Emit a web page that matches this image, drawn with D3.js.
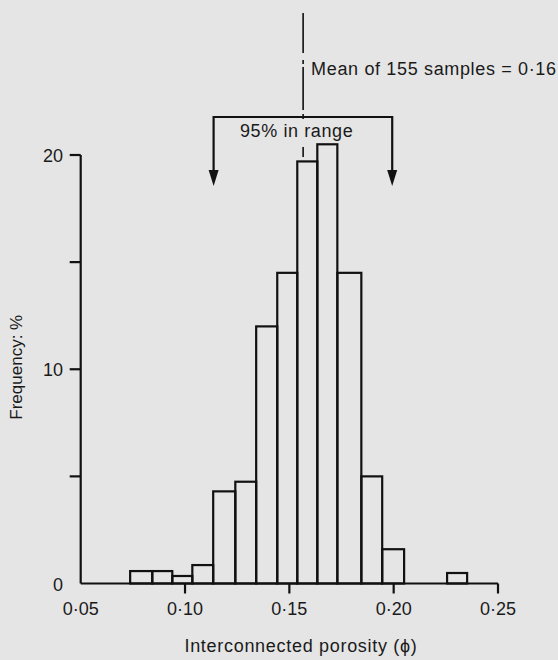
<!DOCTYPE html>
<html>
<head>
<meta charset="utf-8">
<script src="https://cdn.jsdelivr.net/npm/d3@7"></script>
<style>
  body { margin: 0; background: #e5e5e5; }
  text { font-family: "Liberation Sans", Arial, sans-serif; fill: #1a1a1a; }
</style>
</head>
<body>
<div id="container"></div>
<script>
// bin edges (porosity) and frequency (%)
const binStarts = [0.0737, 0.0843, 0.0939, 0.1035, 0.1135, 0.1241, 0.1341, 0.1442, 0.1538, 0.1634, 0.1730, 0.1845, 0.1945, 0.2256];
const binEnds   = [0.0843, 0.0939, 0.1035, 0.1135, 0.1241, 0.1341, 0.1442, 0.1538, 0.1634, 0.1730, 0.1845, 0.1945, 0.2050, 0.2352];
const freq      = [0.58, 0.58, 0.35, 0.86, 4.3, 4.75, 12.0, 14.5, 19.7, 20.5, 14.5, 5.0, 1.6, 0.49];

const xTicks = [0.10, 0.15, 0.20, 0.25];
const xLabels = [0.05, 0.10, 0.15, 0.20, 0.25];
const yTicks = [5, 10, 15, 20];
const yLabels = [0, 10, 20];

const meanValue = 0.1566;       // where the dashed line is drawn
const rangeLow = 0.1137, rangeHigh = 0.1993;
const meanText = "Mean of 155 samples = 0·16";
const rangeText = "95% in range";

const width = 558, height = 660;
const fmt = d => d3.format(".2f")(d).replace(".", "·");

const x = d3.scaleLinear().domain([0.05, 0.25]).range([80.7, 498]);
const y = d3.scaleLinear().domain([0, 20]).range([583.5, 155]);

const svg = d3.select("#container").append("svg")
  .attr("width", width).attr("height", height);

// bars
svg.append("g")
  .selectAll("rect")
  .data(freq)
  .join("rect")
  .attr("x", (d, i) => x(binStarts[i]))
  .attr("width", (d, i) => x(binEnds[i]) - x(binStarts[i]))
  .attr("y", d => y(d))
  .attr("height", d => y(0) - y(d))
  .attr("fill", "none")
  .attr("stroke", "#111")
  .attr("stroke-width", 2.2);

// axes
const ink = "#111";
svg.append("line")
  .attr("x1", x(0.05)).attr("x2", x(0.25))
  .attr("y1", y(0)).attr("y2", y(0))
  .attr("stroke", ink).attr("stroke-width", 2.2);
svg.append("line")
  .attr("x1", x(0.05)).attr("x2", x(0.05))
  .attr("y1", y(0)).attr("y2", y(20))
  .attr("stroke", ink).attr("stroke-width", 2.2);

svg.append("g").selectAll("line")
  .data(xTicks).join("line")
  .attr("x1", d => x(d)).attr("x2", d => x(d))
  .attr("y1", y(0)).attr("y2", y(0) + 10)
  .attr("stroke", ink).attr("stroke-width", 2.2);

svg.append("g").selectAll("text")
  .data(xLabels).join("text")
  .attr("x", d => x(d)).attr("y", 615)
  .attr("text-anchor", "middle")
  .attr("font-size", 18)
  .text(fmt);

svg.append("g").selectAll("line")
  .data(yTicks).join("line")
  .attr("x1", x(0.05) - 11).attr("x2", x(0.05))
  .attr("y1", d => y(d)).attr("y2", d => y(d))
  .attr("stroke", ink).attr("stroke-width", 2.2);

svg.append("g").selectAll("text")
  .data(yLabels).join("text")
  .attr("x", 63).attr("y", d => y(d) + 7)
  .attr("text-anchor", "end")
  .attr("font-size", 18)
  .text(d => d);

svg.append("text")
  .attr("x", 301).attr("y", 652)
  .attr("text-anchor", "middle")
  .attr("font-size", 18)
  .attr("letter-spacing", 0.7)
  .text("Interconnected porosity (ϕ)");

svg.append("text")
  .attr("transform", `translate(22,${y(10) - 2}) rotate(-90)`)
  .attr("text-anchor", "middle")
  .attr("font-size", 17)
  .text("Frequency: %");

// mean line, broken like the original
svg.append("line")
  .attr("x1", x(meanValue)).attr("x2", x(meanValue))
  .attr("y1", 13).attr("y2", 157)
  .attr("stroke", ink).attr("stroke-width", 1.6)
  .attr("stroke-dasharray", "40,7,4,3,43,4,5,28,10");

svg.append("text")
  .attr("x", x(meanValue) + 8).attr("y", 75)
  .attr("font-size", 18)
  .attr("letter-spacing", 0.65)
  .text(meanText);

// 95% range bracket
const bracketY = 117, arrowTip = 186;
svg.append("path")
  .attr("d", `M${x(rangeLow)},${arrowTip - 12}V${bracketY}H${x(rangeHigh)}V${arrowTip - 12}`)
  .attr("fill", "none").attr("stroke", ink).attr("stroke-width", 2.2);

svg.append("g").selectAll("path")
  .data([rangeLow, rangeHigh]).join("path")
  .attr("d", d => `M${x(d) - 5},${arrowTip - 16}L${x(d) + 5},${arrowTip - 16}L${x(d)},${arrowTip}Z`)
  .attr("fill", ink);

svg.append("text")
  .attr("x", 240).attr("y", 137)
  .attr("font-size", 18)
  .attr("letter-spacing", 0.6)
  .text(rangeText);
</script>
</body>
</html>
